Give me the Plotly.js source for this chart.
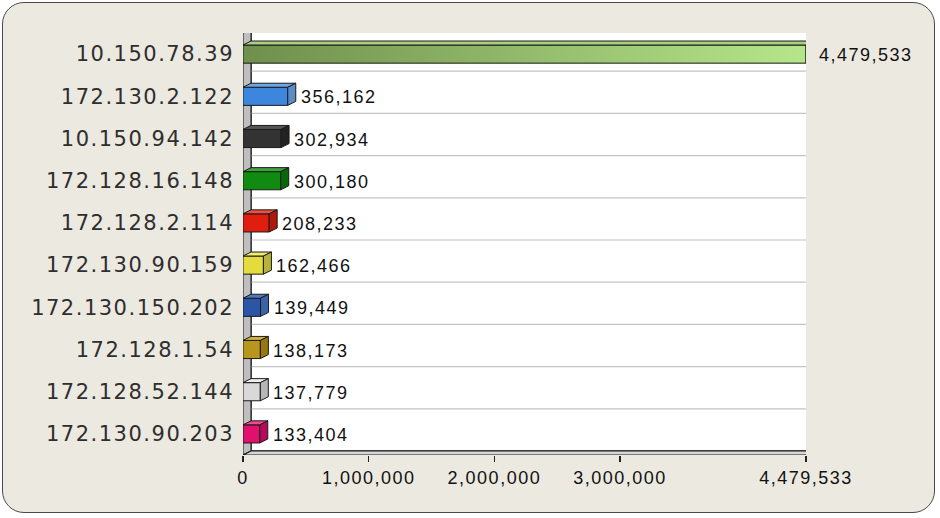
<!DOCTYPE html>
<html>
<head>
<meta charset="utf-8">
<script src="https://cdn.plot.ly/plotly-3.0.1.min.js"></script>
<style>
  html, body { margin: 0; padding: 0; background: #ffffff; }
  #frame {
    position: absolute; left: 2px; top: 2px; width: 931px; height: 509px;
    background: #ece9e1; border: 1.5px solid #4a4a4a; border-radius: 22px;
  }
  #chart { position: absolute; left: 0; top: 0; width: 940px; height: 518px; }
  .ytick text { letter-spacing: 1.5px; }
  .xtick text { letter-spacing: 1.5px; }
  .annotation-text { letter-spacing: 1.5px; }
</style>
</head>
<body>
<div id="frame"></div>
<div id="chart"></div>
<script>
// ---- data ----
const hosts = ["10.150.78.39", "172.130.2.122", "10.150.94.142", "172.128.16.148", "172.128.2.114",
               "172.130.90.159", "172.130.150.202", "172.128.1.54", "172.128.52.144", "172.130.90.203"];
const bytes = [4479533, 356162, 302934, 300180, 208233, 162466, 139449, 138173, 137779, 133404];
const xTickVals = [0, 1000000, 2000000, 3000000, 4479533];
const xTickText = ["0", "1,000,000", "2,000,000", "3,000,000", "4,479,533"];

// ---- style ----
const frontColors = ["#93b56a", "#3d86de", "#333333", "#118a11", "#e01e10", "#e3dc3c", "#2b56a6", "#b8951c", "#d9d9d9", "#e0106c"];
const topColors   = ["#a9cf80", "#6ea6ea", "#555555", "#3aa53a", "#f05040", "#f0ea70", "#4f78c0", "#d0b040", "#eeeeee", "#f04a90"];
const sideColors  = ["#8fbf62", "#5a8cc6", "#222222", "#0a680a", "#b01808", "#b8b23a", "#3a62a6", "#98780e", "#b6b6b6", "#b50a55"];

const ML = 243, MR = 134, MT = 33, MB = 63, W = 940, H = 518;
const xMax = 4479533;
const plotW = W - ML - MR, plotH = H - MT - MB;
const nRows = hosts.length;
const dataPerPx = xMax / plotW;
const rowPx = plotH / nRows;
const DX = 8 * dataPerPx;        // depth offset in x (data units)
const DY = 4 / rowPx;            // depth offset in y (category units, upward)
const barW = 0.43;
const idx = hosts.map((_, i) => i);

const shapes = [];
// back wall (white)
shapes.push({type: 'path', layer: 'below', xref: 'x', yref: 'y',
  path: `M ${DX},${-0.5 - DY} L ${xMax + DX},${-0.5 - DY} L ${xMax + DX},${nRows - 0.5 - DY} L ${DX},${nRows - 0.5 - DY} Z`,
  fillcolor: '#ffffff', line: {color: '#1e1e1e', width: 1.5}});
// gridlines on back wall
for (let k = 0; k < nRows - 1; k++) {
  const yy = k + 0.5 - DY;
  shapes.push({type: 'line', layer: 'below', xref: 'x', yref: 'y',
    x0: DX, x1: xMax + DX, y0: yy, y1: yy, line: {color: '#c4c4c4', width: 1.2}});
}
// left side wall
shapes.push({type: 'path', layer: 'below', xref: 'x', yref: 'y',
  path: `M 0,-0.5 L ${DX},${-0.5 - DY} L ${DX},${nRows - 0.5 - DY} L 0,${nRows - 0.5} Z`,
  fillcolor: '#bfbfbf', line: {color: '#2a2a2a', width: 1.2}});
// floor
shapes.push({type: 'path', layer: 'below', xref: 'x', yref: 'y',
  path: `M 0,${nRows - 0.5} L ${xMax},${nRows - 0.5} L ${xMax + DX},${nRows - 0.5 - DY} L ${DX},${nRows - 0.5 - DY} Z`,
  fillcolor: '#d6d6d6', line: {color: '#1e1e1e', width: 1.2}});

// 3D faces of each bar
bytes.forEach((v, i) => {
  const yT = i - barW / 2, yB = i + barW / 2;
  shapes.push({type: 'path', layer: 'above', xref: 'x', yref: 'y',
    path: `M 0,${yT} L ${v},${yT} L ${v + DX},${yT - DY} L ${DX},${yT - DY} Z`,
    fillcolor: topColors[i], line: {color: '#1a1a1a', width: 1}});
  shapes.push({type: 'path', layer: 'above', xref: 'x', yref: 'y',
    path: `M ${v},${yT} L ${v + DX},${yT - DY} L ${v + DX},${yB - DY} L ${v},${yB} Z`,
    fillcolor: sideColors[i], line: {color: '#1a1a1a', width: 1}});
});

const annotations = bytes.map((v, i) => ({
  x: v, y: i, xref: 'x', yref: 'y', xanchor: 'left', yanchor: 'middle',
  xshift: 11, yshift: -1, showarrow: false,
  text: v.toLocaleString('en-US'),
  font: {family: 'Liberation Sans, Arial, sans-serif', size: 18, color: '#111111'}
}));

const trace = {
  type: 'bar', orientation: 'h', x: bytes, y: idx, width: barW,
  marker: {color: frontColors, line: {color: '#1a1a1a', width: 1}},
  hoverinfo: 'skip', cliponaxis: false
};

const layout = {
  width: W, height: H,
  margin: {l: ML, r: MR, t: MT, b: MB, pad: 0},
  paper_bgcolor: 'rgba(0,0,0,0)', plot_bgcolor: 'rgba(0,0,0,0)',
  showlegend: false,
  xaxis: {
    range: [0, xMax], tickvals: xTickVals, ticktext: xTickText,
    ticks: 'outside', ticklen: 6, tickwidth: 1.2, tickcolor: '#222',
    showgrid: false, zeroline: false, showline: false,
    tickfont: {family: 'Liberation Sans, Arial, sans-serif', size: 18, color: '#111'}
  },
  yaxis: {
    range: [nRows - 0.5, -0.5], tickvals: idx, ticktext: hosts,
    ticks: '', showgrid: false, zeroline: false, showline: false,
    ticklabelstandoff: 8,
    tickfont: {family: 'DejaVu Sans, sans-serif', size: 21, color: '#2e2e2e'}
  },
  shapes: shapes,
  annotations: annotations
};

Plotly.newPlot('chart', [trace], layout, {displayModeBar: false, staticPlot: true}).then(gd => {
  // horizontal gradient on the first (largest) bar
  const svg = gd.querySelector('.main-svg');
  const ns = 'http://www.w3.org/2000/svg';
  let defs = svg.querySelector('defs');
  if (!defs) { defs = document.createElementNS(ns, 'defs'); svg.insertBefore(defs, svg.firstChild); }
  const grad = document.createElementNS(ns, 'linearGradient');
  grad.setAttribute('id', 'bigBarGrad');
  grad.setAttribute('x1', '0'); grad.setAttribute('x2', '1'); grad.setAttribute('y1', '0'); grad.setAttribute('y2', '0');
  [['0', '#6f8f4c'], ['1', '#b6e68a']].forEach(([o, c]) => {
    const s = document.createElementNS(ns, 'stop');
    s.setAttribute('offset', o); s.setAttribute('stop-color', c);
    grad.appendChild(s);
  });
  defs.appendChild(grad);
  const pts = gd.querySelectorAll('.barlayer .point path');
  if (pts.length) pts[0].style.fill = 'url(#bigBarGrad)';
});
</script>
</body>
</html>
